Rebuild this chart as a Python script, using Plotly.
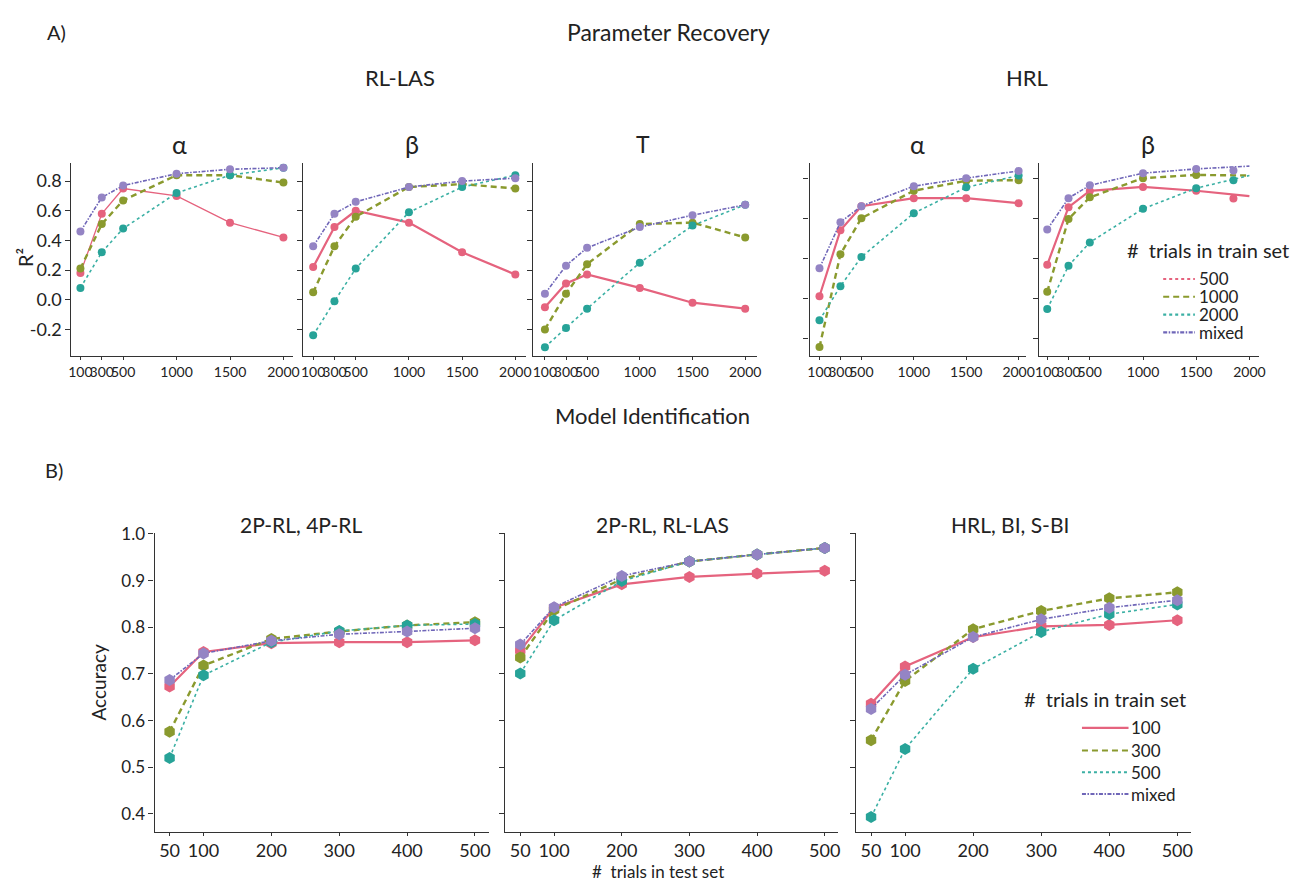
import plotly.graph_objects as go

# ---------------- data ----------------
top_x = [100, 300, 500, 1000, 1500, 2000]
top_tick_labels = ["100", "300", "500", "1000", "1500", "2000"]
train_top = ["500", "1000", "2000", "mixed"]

# RL-LAS alpha  (500, 1000, 2000, mixed)
rl_alpha_500 = [0.18, 0.58, 0.75, 0.70, 0.52, 0.42]
rl_alpha_1000 = [0.21, 0.51, 0.67, 0.84, 0.84, 0.79]
rl_alpha_2000 = [0.08, 0.32, 0.48, 0.72, 0.84, 0.89]
rl_alpha_mixed = [0.46, 0.69, 0.77, 0.85, 0.88, 0.89]
# RL-LAS beta
rl_beta_500 = [0.22, 0.49, 0.60, 0.52, 0.32, 0.17]
rl_beta_1000 = [0.05, 0.36, 0.56, 0.76, 0.78, 0.75]
rl_beta_2000 = [-0.24, -0.01, 0.21, 0.59, 0.76, 0.84]
rl_beta_mixed = [0.36, 0.58, 0.66, 0.76, 0.80, 0.82]
# RL-LAS T
rl_t_500 = [-0.05, 0.11, 0.17, 0.08, -0.02, -0.06]
rl_t_1000 = [-0.20, 0.04, 0.24, 0.51, 0.52, 0.42]
rl_t_2000 = [-0.32, -0.19, -0.06, 0.25, 0.50, 0.64]
rl_t_mixed = [0.04, 0.23, 0.35, 0.49, 0.57, 0.64]
# HRL alpha
hrl_alpha_500 = [0.21, 0.54, 0.66, 0.70, 0.70, 0.675]
hrl_alpha_1000 = [-0.044, 0.42, 0.60, 0.737, 0.787, 0.79]
hrl_alpha_2000 = [0.09, 0.26, 0.406, 0.625, 0.754, 0.813]
hrl_alpha_mixed = [0.35, 0.58, 0.66, 0.76, 0.80, 0.836]
# HRL beta (line values; last marker drawn slightly left in the original)
hrl_beta_500 = [0.367, 0.655, 0.736, 0.756, 0.737, 0.71]
hrl_beta_1000 = [0.232, 0.596, 0.704, 0.80, 0.816, 0.813]
hrl_beta_2000 = [0.146, 0.362, 0.479, 0.647, 0.75, 0.813]
hrl_beta_mixed = [0.543, 0.70, 0.764, 0.825, 0.846, 0.86]
hrl_beta_marker_x = [100, 300, 500, 1000, 1500, 1850]
hrl_beta_last_markers = [0.698, None, 0.79, 0.838]

bottom_x = [50, 100, 200, 300, 400, 500]
train_bottom = ["100", "300", "500", "mixed"]
# 2P-RL, 4P-RL
mi_a_100 = [0.673, 0.747, 0.766, 0.768, 0.768, 0.772]
mi_a_300 = [0.576, 0.718, 0.775, 0.791, 0.804, 0.811]
mi_a_500 = [0.520, 0.697, 0.768, 0.792, 0.804, 0.807]
mi_a_mixed = [0.687, 0.744, 0.771, 0.785, 0.791, 0.798]
# 2P-RL, RL-LAS
mi_b_100 = [0.750, 0.842, 0.892, 0.908, 0.915, 0.921]
mi_b_300 = [0.735, 0.837, 0.903, 0.941, 0.956, 0.970]
mi_b_500 = [0.701, 0.815, 0.899, 0.941, 0.956, 0.970]
mi_b_mixed = [0.763, 0.843, 0.910, 0.941, 0.956, 0.970]
# HRL, BI, S-BI
mi_c_100 = [0.636, 0.716, 0.779, 0.802, 0.805, 0.815]
mi_c_300 = [0.558, 0.685, 0.796, 0.835, 0.862, 0.875]
mi_c_500 = [0.393, 0.539, 0.711, 0.790, 0.828, 0.849]
mi_c_mixed = [0.625, 0.698, 0.779, 0.817, 0.842, 0.858]

# ---------------- styles ----------------
FONT = "Lato"
PAGE_W, PAGE_H = 1307, 890
BODY_MARGIN = 8  # default page margin around the figure
W, H = PAGE_W - 2 * BODY_MARGIN, PAGE_H - 2 * BODY_MARGIN
colors = ["#E5637E", "#8A9A2E", "#27A398", "#9484C4"]
line_colors = ["#E5637E", "#8A9A2E", "#3BB0A4", "#6F66B8"]
dashes = ["solid", "6px,4px", "dot", "4px,1.5px,1.5px,1.5px"]
widths = [2.2, 2.4, 1.6, 1.6]

def px_x(x):
    return (x - BODY_MARGIN) / W

def px_y(y):
    return 1 - (y - BODY_MARGIN) / H

fig = go.Figure()

top_panels = [
    ([rl_alpha_500, rl_alpha_1000, rl_alpha_2000, rl_alpha_mixed], (68, 292), (16, 2093)),
    ([rl_beta_500, rl_beta_1000, rl_beta_2000, rl_beta_mixed], (302, 527), (7, 2102)),
    ([rl_t_500, rl_t_1000, rl_t_2000, rl_t_mixed], (534, 760), (-12, 2112)),
    ([hrl_alpha_500, hrl_alpha_1000, hrl_alpha_2000, hrl_alpha_mixed], (813, 1032), (5, 2075)),
    ([hrl_beta_500, hrl_beta_1000, hrl_beta_2000, hrl_beta_mixed], (1045, 1267), (26, 2093)),
]
top_y = (155, 350)
bottom_y = (529, 831)

axis_common = dict(showline=True, linecolor="#333333", linewidth=1.4, ticks="outside",
                   ticklen=5, tickcolor="#333333", tickwidth=1.2, showgrid=False,
                   zeroline=False, mirror=False)

layout = {}
for i, (series, (xl, xr), xrange_) in enumerate(top_panels):
    n = i + 1
    xa = "xaxis" if n == 1 else f"xaxis{n}"
    ya = "yaxis" if n == 1 else f"yaxis{n}"
    xref = "x" if n == 1 else f"x{n}"
    yref = "y" if n == 1 else f"y{n}"
    layout[xa] = dict(axis_common, domain=[px_x(xl), px_x(xr)], range=list(xrange_),
                      tickvals=top_x, ticktext=top_tick_labels, anchor=yref, tickangle=0,
                      ticklen=3, tickfont=dict(family=FONT, size=14, color="#222"))
    if i < 3:
        yr = [-0.38, 0.92]
        yt = [-0.2, 0.0, 0.2, 0.4, 0.6, 0.8]
    else:
        yr = [-0.089, 0.874]
        yt = [0.0, 0.2, 0.4, 0.6, 0.8]
    layout[ya] = dict(axis_common, domain=[px_y(top_y[1]), px_y(top_y[0])], range=yr,
                      tickvals=yt, ticktext=[f"{v:.1f}" for v in yt],
                      showticklabels=(i == 0), anchor=xref,
                      tickfont=dict(family=FONT, size=18, color="#222"))
    for k, vals in enumerate(series):
        if i == 4:
            fig.add_trace(go.Scatter(x=top_x, y=vals, mode="lines", xaxis=xref, yaxis=yref,
                                     line=dict(color=line_colors[k], dash=dashes[k], width=widths[k]),
                                     showlegend=False, hoverinfo="skip"))
            my = list(vals[:5]) + [hrl_beta_last_markers[k]]
            fig.add_trace(go.Scatter(x=hrl_beta_marker_x, y=my, mode="markers", xaxis=xref, yaxis=yref,
                                     marker=dict(color=colors[k], size=8, symbol="circle"),
                                     showlegend=False))
        else:
            w = widths[k]
            if i == 0 and k == 0:
                w = 1.3
            fig.add_trace(go.Scatter(x=top_x, y=vals, mode="lines+markers", xaxis=xref, yaxis=yref,
                                     line=dict(color=line_colors[k], dash=dashes[k], width=w),
                                     marker=dict(color=colors[k], size=8, symbol="circle"),
                                     showlegend=False))

bottom_panels = [
    ([mi_a_100, mi_a_300, mi_a_500, mi_a_mixed], (152, 489)),
    ([mi_b_100, mi_b_300, mi_b_500, mi_b_mixed], (506, 842)),
    ([mi_c_100, mi_c_300, mi_c_500, mi_c_mixed], (860, 1198)),
]
for j, (series, (xl, xr)) in enumerate(bottom_panels):
    n = 6 + j
    xref, yref = f"x{n}", f"y{n}"
    layout[f"xaxis{n}"] = dict(axis_common, domain=[px_x(xl), px_x(xr)], range=[28, 520],
                               tickvals=bottom_x, anchor=yref, tickangle=0, ticklen=3,
                               tickfont=dict(family=FONT, size=18, color="#222"))
    yt = [0.4, 0.5, 0.6, 0.7, 0.8, 0.9, 1.0]
    layout[f"yaxis{n}"] = dict(axis_common, domain=[px_y(bottom_y[1]), px_y(bottom_y[0])],
                               range=[0.362, 1.002], tickvals=yt,
                               ticktext=[f"{v:.1f}" for v in yt], showticklabels=(j == 0),
                               anchor=xref, tickfont=dict(family=FONT, size=17, color="#222"))
    for k, vals in enumerate(series):
        fig.add_trace(go.Scatter(x=bottom_x, y=vals, mode="lines+markers", xaxis=xref, yaxis=yref,
                                 line=dict(color=line_colors[k], dash=dashes[k], width=widths[k]),
                                 marker=dict(color=colors[k], size=12, symbol="hexagon"),
                                 showlegend=False))

def ann(text, x, y, size, xanchor="center", angle=0):
    return dict(text=text, x=px_x(x), y=px_y(y), xref="paper", yref="paper", showarrow=False,
                xanchor=xanchor, yanchor="middle", textangle=angle, borderpad=0,
                font=dict(family=FONT, size=size, color="#222"))

annotations = [
    ann("A)", 42, 22, 20, "left"),
    ann("Parameter Recovery", 671, 22, 23),
    ann("RL-LAS", 400, 68, 22),
    ann("HRL", 1033, 68, 22),
    ann("α", 177, 135, 25),
    ann("β", 412, 135, 25),
    ann("T", 645, 135, 23),
    ann("α", 922, 135, 25),
    ann("β", 1155, 135, 25),
    ann("R²", 21, 250, 20, angle=-90),
    ann("Model Identification", 655, 410, 22),
    ann("B)", 40, 465, 20, "left"),
    ann("2P-RL, 4P-RL", 300, 520, 21),
    ann("2P-RL, RL-LAS", 665, 520, 21),
    ann("HRL, BI, S-BI", 1015, 520, 21),
    ann("Accuracy", 95, 680, 19, angle=-90),
    ann("#  trials in test set", 660, 871, 17),
]

# custom legends (keys drawn as short lines, labels as text), tight spacing as in the original
shapes = []
top_leg_dash = ["dot", "6px,4px", "dot", "4px,1.5px,1.5px,1.5px"]
top_leg_rows = [272, 290, 308, 326]
annotations.append(ann("#  trials in train set", 1132, 243, 20, "left"))
for k, name in enumerate(train_top):
    yy = px_y(top_leg_rows[k])
    shapes.append(dict(type="line", xref="paper", yref="paper", x0=px_x(1170), x1=px_x(1202),
                       y0=yy, y1=yy, line=dict(color=line_colors[k], dash=top_leg_dash[k], width=2.2)))
    annotations.append(ann(name, 1205, top_leg_rows[k], 17, "left"))

bot_leg_dash = ["solid", "6px,4px", "dot", "4px,1.5px,1.5px,1.5px"]
bot_leg_rows = [726, 749, 771, 793]
annotations.append(ann("#  trials in train set", 1028, 697, 20, "left"))
for k, name in enumerate(train_bottom):
    yy = px_y(bot_leg_rows[k])
    shapes.append(dict(type="line", xref="paper", yref="paper", x0=px_x(1088), x1=px_x(1135),
                       y0=yy, y1=yy, line=dict(color=line_colors[k], dash=bot_leg_dash[k], width=2.2)))
    annotations.append(ann(name, 1136, bot_leg_rows[k], 17, "left"))

fig.update_layout(
    width=W, height=H, margin=dict(l=0, r=0, t=0, b=0),
    paper_bgcolor="white", plot_bgcolor="white",
    font=dict(family=FONT, size=16, color="#222"),
    annotations=annotations,
    shapes=shapes,
    showlegend=False,
    **layout,
)

fig.write_html("out.html", config={"displayModeBar": False})
